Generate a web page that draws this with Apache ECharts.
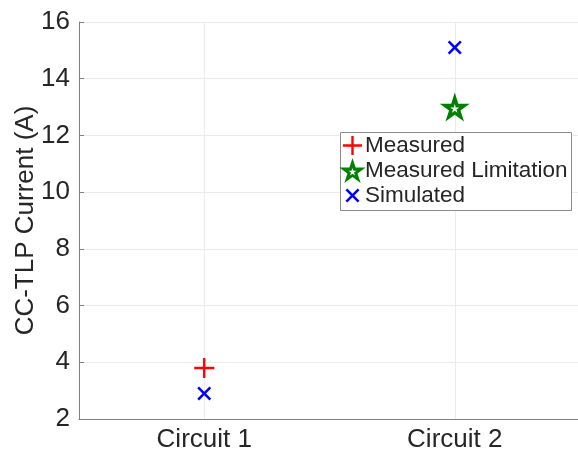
<!DOCTYPE html>
<html>
<head>
<meta charset="utf-8">
<script src="https://cdn.jsdelivr.net/npm/echarts@6/dist/echarts.min.js"></script>
<style>
  html, body { margin: 0; padding: 0; background: #fff; }
  #chart { width: 578px; height: 453px; }
</style>
</head>
<body>
<div id="chart"></div>
<script>
// Circuits on the x axis and the CC-TLP current values (A)
const circuits = ['Circuit 1', 'Circuit 2'];
const measured = [3.8, null];
const measuredLimitation = [null, 13.0];
const simulated = [2.9, 15.1];
const yTicks = [2, 4, 6, 8, 10, 12, 14, 16];

const FONT = 'Liberation Sans, Arial, sans-serif';

// Marker shapes (plus, cross, pentagram with a small hollow centre)
const plusPath = 'path://M8.8,0H11.2V8.8H20V11.2H11.2V20H8.8V11.2H0V8.8H8.8Z';
const crossPath = 'path://M0,1.8L1.8,0L7,5.2L12.2,0L14,1.8L8.8,7L14,12.2L12.2,14L7,8.8L1.8,14L0,12.2L5.2,7Z';
const starPath = 'path://M50,0L61.23,34.55L97.55,34.55L68.17,55.9L79.39,90.45L50,69.1L20.61,90.45L31.83,55.9L2.45,34.55L38.77,34.55Z' +
  'M50,36L46.63,46.37L35.74,46.37L44.55,52.77L41.18,63.13L50,56.73L58.82,63.13L55.45,52.77L64.26,46.37L53.37,46.37Z';

// Legend icons: same shapes, padded so they sit at their own size inside the legend item box
const plusIcon = 'path://M-4,-3M23,22M8.3,0H10.7V8.3H19V10.7H10.7V19H8.3V10.7H0V8.3H8.3Z';
const crossIcon = 'path://M-6.5,-5.5M20.5,19.5M0,1.8L1.8,0L7,5.2L12.2,0L14,1.8L8.8,7L14,12.2L12.2,14L7,8.8L1.8,14L0,12.2L5.2,7Z';

function pairs(values) {
  return circuits.map((c, i) => [c, values[i]]).filter(p => p[1] !== null);
}

const chart = echarts.init(document.getElementById('chart'), null, { renderer: 'canvas' });
chart.setOption({
  animation: false,
  backgroundColor: '#ffffff',
  grid: { left: 79, top: 22, width: 501, height: 397, containLabel: false, outerBoundsMode: 'none' },
  xAxis: {
    type: 'category',
    data: circuits,
    boundaryGap: true,
    axisLine: { lineStyle: { color: '#808080', width: 1 } },
    axisTick: { show: true, inside: true, length: 5, alignWithLabel: true, lineStyle: { color: '#808080' } },
    axisLabel: { color: '#262626', fontSize: 26, fontFamily: FONT, margin: 8 },
    splitLine: { show: false }
  },
  yAxis: {
    type: 'value',
    min: yTicks[0],
    max: yTicks[yTicks.length - 1],
    interval: 2,
    name: 'CC-TLP Current (A)',
    nameLocation: 'middle',
    nameRotate: 90,
    nameGap: 40,
    nameMoveOverlap: false,
    nameTextStyle: { color: '#262626', fontSize: 26, fontFamily: FONT },
    axisLine: { show: true, lineStyle: { color: '#808080', width: 1 } },
    axisTick: { show: true, inside: true, length: 5, lineStyle: { color: '#808080' } },
    axisLabel: { color: '#262626', fontSize: 26, fontFamily: FONT, margin: 9 },
    splitLine: { show: true, lineStyle: { color: '#ebebeb', width: 1 } }
  },
  graphic: [{
    type: 'rect',
    z: 50,
    shape: { x: 340.5, y: 132.5, width: 231, height: 78 },
    style: { fill: '#ffffff', stroke: '#8c8c8c', lineWidth: 1 }
  }],
  legend: {
    z: 60,
    orient: 'vertical',
    left: 339,
    top: 133,
    padding: 0,
    itemGap: 0,
    itemWidth: 27,
    itemHeight: 25,
    textStyle: { color: '#262626', fontSize: 22.5, fontFamily: FONT, padding: [0, 0, 0, -6] },
    data: [
      { name: 'Measured', icon: plusIcon },
      { name: 'Measured Limitation', icon: starPath },
      { name: 'Simulated', icon: crossIcon }
    ]
  },
  series: [
    {
      name: 'gridlines',
      type: 'scatter',
      data: [],
      z: 1,
      silent: true,
      markLine: {
        z: 1,
        silent: true,
        symbol: 'none',
        label: { show: false },
        lineStyle: { color: '#ebebeb', width: 1, type: 'solid' },
        data: circuits.map(c => ({ xAxis: c }))
      }
    },
    {
      name: 'Measured',
      type: 'scatter',
      z: 3,
      symbol: plusPath,
      symbolSize: 20,
      itemStyle: { color: '#ff0000', opacity: 1 },
      data: pairs(measured)
    },
    {
      name: 'Measured Limitation',
      type: 'scatter',
      z: 3,
      symbol: starPath,
      symbolSize: [30, 29],
      itemStyle: { color: '#008000', opacity: 1 },
      data: pairs(measuredLimitation)
    },
    {
      name: 'Simulated',
      type: 'scatter',
      z: 3,
      symbol: crossPath,
      symbolSize: 14,
      itemStyle: { color: '#0000ff', opacity: 1 },
      data: pairs(simulated)
    }
  ]
});
</script>
</body>
</html>
